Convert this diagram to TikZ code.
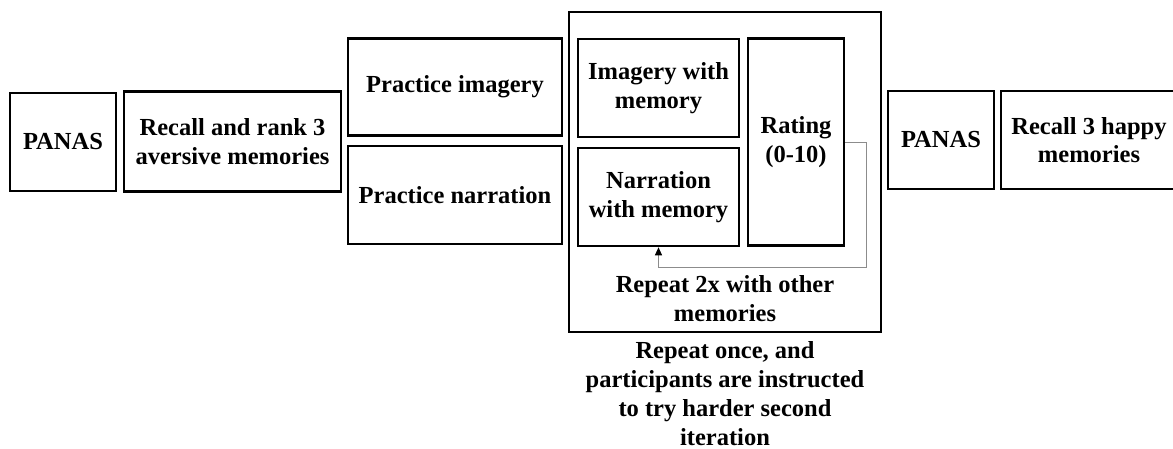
\documentclass[tikz,border=0pt]{standalone}
\usepackage{fontspec}
\setmainfont{Liberation Serif}
\usetikzlibrary{arrows.meta}
\begin{document}
\begin{tikzpicture}[x=1pt,y=-1pt,
  stage/.style={draw, line width=2.6pt, align=center, inner sep=0pt,
    font=\fontsize{24.5}{28.5}\selectfont\bfseries},
  note/.style={align=center, inner sep=0pt,
    font=\fontsize{24.5}{29}\selectfont\bfseries},
  loopline/.style={draw=black!45, line width=0.9pt}]
\useasboundingbox (0,0) rectangle (1173,449);

% outer block of the repeated session
\node[draw, line width=2.6pt, minimum width=312pt, minimum height=320pt] (outer) at (725,172) {};

% sequence of stages
\node[stage, minimum width=106pt, minimum height=98pt] (panasA) at (63,142) {PANAS};
\node[stage, minimum width=217pt, minimum height=100pt] (recall) at (232.5,141.5) {Recall and rank 3\\aversive memories};
\node[stage, minimum width=214pt, minimum height=97pt] (pimag) at (455,87) {Practice imagery};
\node[stage, minimum width=214pt, minimum height=98pt] (pnarr) at (455,195) {Practice narration};
\node[stage, minimum width=161pt, minimum height=98pt] (imag) at (658.5,88) {Imagery with\\memory};
\node[stage, minimum width=161pt, minimum height=98pt] (narr) at (658.5,197) {Narration\\with memory};
\node[stage, minimum width=96pt, minimum height=207pt] (rating) at (796,142) {Rating\\(0-10)};
\node[stage, minimum width=106pt, minimum height=98pt] (panasB) at (941,140) {PANAS};
\node[stage, minimum width=176pt, minimum height=98pt] (happy) at (1089,140) {Recall 3 happy\\memories};

% loop back from the rating to the next memory
\coordinate (c1) at (866,142);
\coordinate (c2) at (866,267);
\coordinate (c3) at (658.5,267);
\draw[loopline, -{Triangle[length=8pt,width=7pt,fill=black,color=black]}] (rating.east |- c1) -- (c1) -- (c2) -- (c3) -- (narr.south);

\node[note] (rep2) at (725,299) {Repeat 2x with other\\memories};
\node[note] (rep1) at (725,394) {Repeat once, and\\participants are instructed\\to try harder second\\iteration};
\end{tikzpicture}
\end{document}
